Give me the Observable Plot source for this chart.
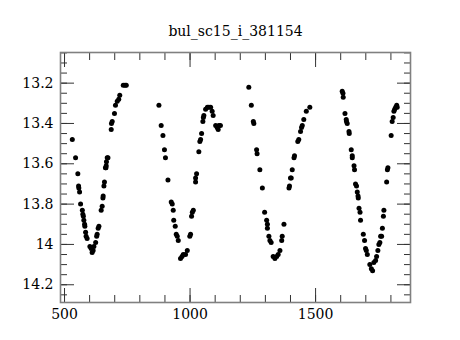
<!DOCTYPE html>
<html><head><meta charset="utf-8">
<script src="https://cdn.jsdelivr.net/npm/d3@7"></script>
<script src="https://cdn.jsdelivr.net/npm/@observablehq/plot@0.6"></script>
<style>body{margin:0;background:#fff}</style>
</head><body><div id="chart"></div>
<script>
const title = "bul_sc15_i_381154";
const hjd = [
 531,544,553,556,557,560,564,571,573,575,577,580,581,584,586,590,601,606,610,614,617,624,628,630,634,637,646,650,653,654,657,659,663,665,666,667,670,673,686,687,690,699,703,710,716,720,734,741,746,
 876,885,892,898,902,912,925,929,933,935,941,945,949,953,962,968,973,982,989,999,1002,1006,1009,1013,1022,1022,1026,1035,1039,1042,1046,1051,1053,1055,1062,1069,1075,1082,1088,1092,1102,1108,1112,1115,1121,
 1234,1244,1252,1254,1265,1267,1278,1288,1297,1305,1308,1308,1314,1318,1323,1331,1338,1345,1351,1358,1365,1367,1374,1394,1396,1400,1403,1407,1414,1416,1429,1433,1440,1444,1447,1453,1463,1477,
 1606,1609,1610,1617,1622,1623,1626,1633,1634,1642,1646,1646,1653,1655,1659,1663,1666,1669,1670,1673,1677,1679,1690,1695,1699,1702,1706,1716,1722,1727,1732,1739,1743,1748,1752,1756,1759,1763,1766,1770,1772,1783,1786,1788,1801,1805,1809,1812,1815,1819,1823,1825
];
const imag = [
 13.48,13.57,13.65,13.71,13.72,13.74,13.80,13.83,13.85,13.86,13.88,13.90,13.91,13.94,13.96,13.97,14.01,14.02,14.04,14.03,14.01,13.99,13.96,13.95,13.92,13.91,13.83,13.81,13.77,13.76,13.71,13.69,13.62,13.62,13.61,13.59,13.57,13.57,13.43,13.40,13.39,13.35,13.31,13.29,13.28,13.26,13.21,13.21,13.21,
 13.31,13.41,13.46,13.53,13.57,13.68,13.79,13.80,13.83,13.88,13.91,13.95,13.96,13.98,14.07,14.06,14.05,14.05,14.03,13.96,13.95,13.86,13.84,13.83,13.69,13.67,13.65,13.54,13.49,13.48,13.45,13.39,13.37,13.36,13.33,13.32,13.32,13.32,13.34,13.36,13.41,13.42,13.43,13.41,13.41,
 13.22,13.31,13.39,13.40,13.53,13.55,13.63,13.72,13.84,13.88,13.90,13.92,13.96,13.98,13.99,14.06,14.07,14.06,14.05,14.03,13.98,13.96,13.90,13.72,13.71,13.67,13.67,13.63,13.57,13.56,13.49,13.48,13.44,13.42,13.41,13.38,13.34,13.32,
 13.24,13.25,13.27,13.35,13.38,13.39,13.40,13.44,13.45,13.53,13.56,13.57,13.61,13.63,13.70,13.71,13.74,13.76,13.77,13.82,13.84,13.88,13.95,13.98,14.02,14.03,14.05,14.10,14.12,14.13,14.09,14.08,14.06,14.03,14.00,13.99,13.96,13.96,13.92,13.86,13.83,13.69,13.63,13.62,13.46,13.39,13.37,13.34,13.33,13.32,13.31,13.32
];
const xMajor = [500, 1000, 1500];
const xMajorLabels = ["500", "1000", "1500"];
const xMinor = [500,600,700,800,900,1000,1100,1200,1300,1400,1500,1600,1700,1800];
const yMajor = [13.2, 13.4, 13.6, 13.8, 14, 14.2];
const yMajorLabels = ["13.2", "13.4", "13.6", "13.8", "14", "14.2"];
const yMinor = [13.05,13.1,13.15,13.2,13.25,13.3,13.35,13.4,13.45,13.5,13.55,13.6,13.65,13.7,13.75,13.8,13.85,13.9,13.95,14,14.05,14.1,14.15,14.2,14.25];

const points = hjd.map((t, i) => ({t, m: imag[i]}));
const tickStroke = "#333";
const blank = () => "";

const chart = Plot.plot({
  width: 460,
  height: 340,
  marginLeft: 60,
  marginRight: 50,
  marginTop: 52,
  marginBottom: 38,
  style: {fontFamily: "'DejaVu Serif', serif", fontSize: "14px", background: "#fff", color: "#000", overflow: "visible"},
  x: {domain: [484, 1878]},
  y: {domain: [13.048, 14.288], reverse: true},
  marks: [
    Plot.axisX(xMinor, {anchor: "bottom", tickSize: -7, tickFormat: blank, label: null, stroke: tickStroke}),
    Plot.axisX(xMajor, {anchor: "bottom", tickSize: -14, tickFormat: blank, label: null, stroke: tickStroke}),
    Plot.axisX(xMinor, {anchor: "top", tickSize: -7, tickFormat: blank, label: null, stroke: tickStroke}),
    Plot.axisX(xMajor, {anchor: "top", tickSize: -14, tickFormat: blank, label: null, stroke: tickStroke}),
    Plot.axisX(xMajor, {anchor: "bottom", tickSize: 0, tickPadding: 7, tickFormat: (d, i) => xMajorLabels[i], label: null, fontSize: 14}),
    Plot.axisY(yMinor, {anchor: "left", tickSize: -7, tickFormat: blank, label: null, stroke: tickStroke}),
    Plot.axisY(yMajor, {anchor: "left", tickSize: -14, tickFormat: blank, label: null, stroke: tickStroke}),
    Plot.axisY(yMinor, {anchor: "right", tickSize: -7, tickFormat: blank, label: null, stroke: tickStroke}),
    Plot.axisY(yMajor, {anchor: "right", tickSize: -14, tickFormat: blank, label: null, stroke: tickStroke}),
    Plot.axisY(yMajor, {anchor: "left", tickSize: 0, tickPadding: 7, tickFormat: (d, i) => yMajorLabels[i], label: null, fontSize: 14}),
    Plot.frame({stroke: "#808080", strokeWidth: 1.6}),
    Plot.dot(points, {x: "t", y: "m", r: 2.5, fill: "#000", stroke: "none"}),
    Plot.text([title], {frameAnchor: "top", dy: -17, lineAnchor: "bottom", fontSize: 14, fill: "#000"})
  ]
});
document.getElementById("chart").appendChild(chart);
</script>
</body></html>
